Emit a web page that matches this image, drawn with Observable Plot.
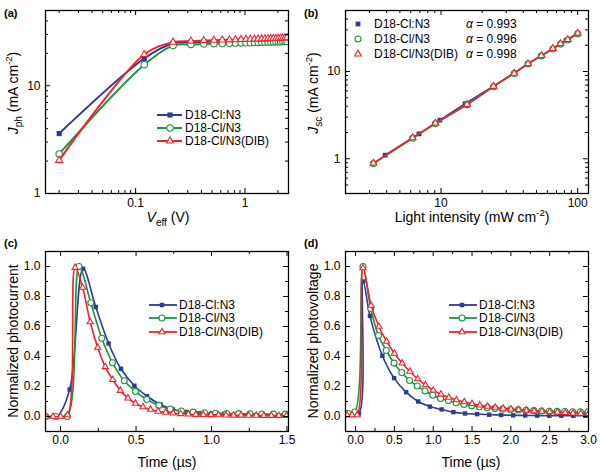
<!DOCTYPE html>
<html><head><meta charset="utf-8">
<script src="https://cdn.jsdelivr.net/npm/d3@7"></script>
<script src="https://cdn.jsdelivr.net/npm/@observablehq/plot@0.6"></script>
<style>
body{margin:0;background:#fff}
#root{position:relative;width:600px;height:472px;background:#fff;font-family:'Liberation Sans',Arial,sans-serif}
</style>
</head><body><div id="root"></div>
<script>
// ---------- names ----------
const seriesNames = ["D18-Cl:N3", "D18-Cl/N3", "D18-Cl/N3(DIB)"];
const alphaLabels = ["0.993", "0.996", "0.998"];

// ---------- panel (a): Jph vs Veff ----------
const veffA = [0.02, 0.12, 0.22, 0.32, 0.42, 0.52, 0.62, 0.72, 0.82, 0.92, 1.02, 1.12, 1.22, 1.32, 1.42, 1.52, 1.62, 1.72, 1.82, 1.92, 2.02, 2.12, 2.22, 2.32, 2.42];
const jphBlue = [3.6, 17.9, 24.8, 25.4, 25.6, 25.8, 25.9, 26.0, 26.05, 26.1, 26.2, 26.25, 26.3, 26.35, 26.4, 26.45, 26.5, 26.55, 26.6, 26.65, 26.7, 26.75, 26.8, 26.85, 26.9];
const jphGreen = [2.33, 15.7, 23.6, 24.2, 24.4, 24.6, 24.7, 24.8, 24.9, 25.0, 25.05, 25.1, 25.2, 25.25, 25.3, 25.4, 25.45, 25.5, 25.55, 25.6, 25.65, 25.7, 25.8, 25.85, 25.9];
const jphRed = [2.03, 19.5, 25.4, 26.0, 26.3, 26.5, 26.6, 26.7, 26.8, 26.9, 27.0, 27.05, 27.1, 27.2, 27.25, 27.3, 27.4, 27.45, 27.5, 27.55, 27.6, 27.7, 27.75, 27.8, 27.9];
const xMajorA = [0.1, 1];
const xMinorA = [0.02, 0.03, 0.04, 0.05, 0.06, 0.07, 0.08, 0.09, 0.2, 0.3, 0.4, 0.5, 0.6, 0.7, 0.8, 0.9, 2];
const yMajorA = [1, 10];
const yMinorA = [2, 3, 4, 5, 6, 7, 8, 9, 20, 30, 40];

// ---------- panel (b): Jsc vs light intensity ----------
const intensBlue = [3.9, 6.9, 9.8, 15.0, 24.2, 34.3, 43.3, 54.2, 65.8, 74.8, 82.0, 100];
const jscBlue = [1.10, 1.93, 2.77, 4.28, 6.8, 9.6, 12.3, 15.2, 18.3, 20.8, 22.7, 27.4];
const intensGreen = [3.2, 6.2, 9.1, 15.5, 24.2, 34.3, 43.3, 54.2, 65.8, 74.8, 84.5, 100];
const jscGreen = [0.88, 1.72, 2.53, 4.15, 6.7, 9.5, 12.2, 15.1, 18.1, 20.6, 23.0, 27.0];
const intensRed = [3.2, 6.2, 9.1, 15.5, 24.2, 34.3, 43.3, 54.2, 65.8, 74.8, 84.5, 100];
const jscRed = [0.89, 1.74, 2.56, 4.18, 6.75, 9.55, 12.3, 15.2, 18.3, 20.9, 23.2, 27.5];
const xMajorB = [10, 100];
const xMinorB = [2, 3, 4, 5, 6, 7, 8, 9, 20, 30, 40, 50, 60, 70, 80, 90];
const yMajorB = [1, 10];
const yMinorB = [0.4, 0.5, 0.6, 0.7, 0.8, 0.9, 2, 3, 4, 5, 6, 7, 8, 9, 20, 30, 40, 50];

// ---------- panel (c): normalized photocurrent ----------
const tBlueC = [-0.098, -0.024, 0.06, 0.149, 0.233, 0.318, 0.40, 0.489, 0.573, 0.662, 0.744, 0.833, 0.915, 1.0, 1.084, 1.168, 1.252, 1.336, 1.42, 1.498];
const iBlueC = [0, 0, 0.18, 0.985, 0.73, 0.487, 0.318, 0.205, 0.135, 0.08, 0.047, 0.03, 0.022, 0.02, 0.018, 0.015, 0.013, 0.012, 0.01, 0.01];
const tGreenC = [-0.098, -0.031, 0.044, 0.122, 0.2, 0.273, 0.344, 0.422, 0.496, 0.571, 0.651, 0.727, 0.80, 0.878, 0.953, 1.027, 1.10, 1.18, 1.255, 1.333, 1.41, 1.489];
const iGreenC = [0, 0, 0, 1.0, 0.758, 0.522, 0.358, 0.238, 0.167, 0.113, 0.074, 0.05, 0.037, 0.029, 0.025, 0.022, 0.02, 0.019, 0.018, 0.017, 0.016, 0.016];
const tRedC = [-0.098, -0.05, 0.0, 0.046, 0.096, 0.146, 0.196, 0.246, 0.296, 0.346, 0.396, 0.446, 0.496, 0.546, 0.596, 0.646, 0.696, 0.746, 0.796, 0.846, 0.896, 0.946, 0.996, 1.046, 1.096, 1.146, 1.196, 1.246, 1.296, 1.346, 1.396, 1.446, 1.496];
const iRedC = [0, 0, 0, 0.01, 0.993, 0.86, 0.63, 0.46, 0.331, 0.245, 0.173, 0.122, 0.087, 0.064, 0.047, 0.034, 0.027, 0.022, 0.018, 0.015, 0.013, 0.012, 0.011, 0.01, 0.009, 0.008, 0.008, 0.007, 0.007, 0.006, 0.006, 0.006, 0.005];
const xMajorC = [0, 0.5, 1.0, 1.5];
const xMinorC = [0.25, 0.75, 1.25];
const yMajorCD = [0, 0.2, 0.4, 0.6, 0.8, 1.0];
const yMinorCD = [0.1, 0.3, 0.5, 0.7, 0.9];

// ---------- panel (d): normalized photovoltage ----------
const tBlueD = [-0.11, -0.05, 0.043, 0.098, 0.185, 0.345, 0.496, 0.651, 0.806, 0.957, 1.108, 1.26, 1.41, 1.565, 1.72, 1.875, 2.03, 2.185, 2.34, 2.495, 2.65, 2.805, 2.96];
const vBlueD = [0.01, 0.01, 0.02, 0.9, 0.671, 0.405, 0.256, 0.162, 0.1, 0.066, 0.047, 0.029, 0.02, 0.016, 0.012, 0.01, 0.008, 0.007, 0.006, 0.005, 0.005, 0.005, 0.005];
const tGreenD = [-0.1, -0.01, 0.095, 0.195, 0.295, 0.395, 0.495, 0.595, 0.695, 0.795, 0.895, 0.995, 1.095, 1.195, 1.295, 1.395, 1.495, 1.595, 1.695, 1.795, 1.895, 1.995, 2.095, 2.195, 2.295, 2.395, 2.495, 2.595, 2.695, 2.795, 2.895, 2.995];
const vGreenD = [0.02, 0.03, 1.0, 0.72, 0.54, 0.44, 0.356, 0.293, 0.24, 0.203, 0.17, 0.142, 0.12, 0.106, 0.092, 0.08, 0.072, 0.065, 0.059, 0.054, 0.05, 0.047, 0.044, 0.041, 0.039, 0.037, 0.035, 0.034, 0.033, 0.032, 0.031, 0.03];
const tRedD = [-0.11, -0.045, 0.02, 0.095, 0.2, 0.3, 0.4, 0.5, 0.6, 0.7, 0.8, 0.9, 1.0, 1.1, 1.2, 1.3, 1.4, 1.5, 1.6, 1.7, 1.8, 1.9, 2.0, 2.1, 2.2, 2.3, 2.4, 2.5, 2.6, 2.7, 2.8, 2.9, 3.0];
const vRedD = [0.01, 0.01, 0.01, 0.99, 0.74, 0.6, 0.5, 0.42, 0.355, 0.3, 0.25, 0.21, 0.175, 0.148, 0.127, 0.11, 0.097, 0.085, 0.075, 0.067, 0.06, 0.054, 0.049, 0.045, 0.041, 0.037, 0.034, 0.031, 0.028, 0.025, 0.022, 0.02, 0.018];
const xMajorD = [0, 0.5, 1.0, 1.5, 2.0, 2.5, 3.0];
const xMinorD = [0.25, 0.75, 1.25, 1.75, 2.25, 2.75];

// ---------- styling ----------
const BLUE = "#2b3c96", GREEN = "#17983c", RED = "#f4212c";
const FONT = "'Liberation Sans', Arial, sans-serif";
const root = document.getElementById("root");

function tickMarks(xMaj, xMin, yMaj, yMin, iw, ih) {
  const t = [];
  for (const [vals, len] of [[xMaj, 5], [xMin, 3]]) {
    t.push(Plot.tickX(vals, {x: d => d, insetTop: ih - len, stroke: "#000", strokeWidth: 1}));
    t.push(Plot.tickX(vals, {x: d => d, insetBottom: ih - len, stroke: "#000", strokeWidth: 1}));
  }
  for (const [vals, len] of [[yMaj, 5], [yMin, 3]]) {
    t.push(Plot.tickY(vals, {y: d => d, insetRight: iw - len, stroke: "#000", strokeWidth: 1}));
    t.push(Plot.tickY(vals, {y: d => d, insetLeft: iw - len, stroke: "#000", strokeWidth: 1}));
  }
  return t;
}

function seriesMarks(series, curve, sw) {
  const m = [];
  for (const s of series) {
    const data = s.xs.map((x, i) => ({x, y: s.ys[i]}));
    m.push(Plot.line(data, {x: "x", y: "y", stroke: s.color, strokeWidth: sw, curve, clip: true}));
    m.push(Plot.dot(data, {x: "x", y: "y", symbol: s.sym, r: s.r, fill: s.open ? "white" : s.color,
      stroke: s.open ? s.color : "none", strokeWidth: 1.1, clip: true}));
  }
  return m;
}

const symType = {square: d3.symbolSquare, circle: d3.symbolCircle, triangle: d3.symbolTriangle};

function drawLegend(svg, series, o) {
  const g = d3.select(svg).append("g").attr("text-anchor", "start");
  series.forEach((s, i) => {
    const y = o.ys[i];
    if (o.line) g.append("line").attr("x1", o.x0).attr("x2", o.x1).attr("y1", y).attr("y2", y)
      .attr("stroke", s.color).attr("stroke-width", o.sw);
    g.append("path").attr("transform", `translate(${o.xm},${y})`)
      .attr("d", d3.symbol(symType[s.sym], Math.PI * s.r * s.r)())
      .attr("fill", s.open ? "white" : s.color).attr("stroke", s.open ? s.color : "none").attr("stroke-width", 1.1);
    g.append("text").attr("x", o.xt).attr("y", y).attr("dy", "0.36em").attr("text-anchor", "start")
      .attr("font-size", 12).attr("font-family", FONT).attr("fill", "#000").text(s.name);
    if (o.alpha) {
      const t = g.append("text").attr("x", o.xa).attr("y", y).attr("dy", "0.36em").attr("text-anchor", "start")
        .attr("font-size", 12).attr("font-family", FONT).attr("fill", "#000");
      t.append("tspan").attr("font-style", "italic").text("α");
      t.append("tspan").text(" = " + alphaLabels[i]);
    }
  });
}

function richText(svg, x, y, parts, rotate) {
  const t = d3.select(svg).append("text")
    .attr("text-anchor", "middle").attr("font-size", 14).attr("font-family", FONT).attr("fill", "#000")
    .attr("transform", rotate ? `translate(${x},${y}) rotate(-90)` : `translate(${x},${y})`);
  let shift = 0;
  for (const p of parts) {
    const sp = t.append("tspan").text(p.t);
    let target = 0;
    if (p.sub) { target = 4; sp.attr("font-size", 10); }
    if (p.sup) { target = -6; sp.attr("font-size", 9.5); }
    if (p.i) sp.attr("font-style", "italic");
    if (target - shift !== 0) sp.attr("dy", target - shift);
    shift = target;
  }
}

function panelLabel(svg, txt, x, y) {
  d3.select(svg).append("text").attr("x", x).attr("y", y).attr("text-anchor", "start")
    .attr("font-size", 11).attr("font-weight", "bold")
    .attr("font-family", FONT).attr("fill", "#000").text(txt);
}

function place(svg, left, top) {
  svg.style.position = "absolute";
  svg.style.left = left + "px";
  svg.style.top = top + "px";
  root.appendChild(svg);
}

const baseStyle = {fontFamily: FONT, fontSize: "12px", color: "#000", background: "transparent", overflow: "visible"};

// ----- panel (a)
{
  const series = [
    {name: seriesNames[0], color: BLUE, sym: "square", r: 2.9, open: false, xs: veffA, ys: jphBlue},
    {name: seriesNames[1], color: GREEN, sym: "circle", r: 3.2, open: true, xs: veffA, ys: jphGreen},
    {name: seriesNames[2], color: RED, sym: "triangle", r: 2.6, open: true, xs: veffA, ys: jphRed}
  ];
  const svg = Plot.plot({
    width: 300, height: 236, marginLeft: 45, marginRight: 12, marginTop: 10, marginBottom: 43,
    style: baseStyle,
    x: {type: "log", domain: [0.015, 2.5]},
    y: {type: "log", domain: [1, 50]},
    marks: [
      ...seriesMarks(series, "catmull-rom", 2),
      Plot.frame({stroke: "#000", strokeWidth: 1.3}),
      ...tickMarks(xMajorA, xMinorA, yMajorA, yMinorA, 243, 183),
      Plot.axisX(xMajorA, {tickSize: 0, tickPadding: 5, tickFormat: d => String(d), label: null}),
      Plot.axisY(yMajorA, {tickSize: 0, tickPadding: 5, tickFormat: d => String(d), label: null})
    ]
  });
  drawLegend(svg, series, {line: true, x0: 157, x1: 182, xm: 170, xt: 185, ys: [115, 128, 141], sw: 2});
  richText(svg, 18, 93, [{t: "J", i: true}, {t: "ph", sub: true}, {t: " (mA cm"}, {t: "-2", sup: true}, {t: ")"}], true);
  richText(svg, 168, 222, [{t: "V", i: true}, {t: "eff", sub: true}, {t: " (V)"}], false);
  panelLabel(svg, "(a)", 4, 17);
  place(svg, 0, 0);
}

// ----- panel (b)
{
  const series = [
    {name: seriesNames[0], color: BLUE, sym: "square", r: 2.7, open: false, xs: intensBlue, ys: jscBlue},
    {name: seriesNames[1], color: GREEN, sym: "circle", r: 3.0, open: true, xs: intensGreen, ys: jscGreen},
    {name: seriesNames[2], color: RED, sym: "triangle", r: 2.5, open: true, xs: intensRed, ys: jscRed}
  ];
  const svg = Plot.plot({
    width: 300, height: 236, marginLeft: 45, marginRight: 12, marginTop: 10, marginBottom: 43,
    style: baseStyle,
    x: {type: "log", domain: [2, 120]},
    y: {type: "log", domain: [0.4, 50]},
    marks: [
      ...seriesMarks(series, "linear", 1.6),
      Plot.frame({stroke: "#000", strokeWidth: 1.3}),
      ...tickMarks(xMajorB, xMinorB, yMajorB, yMinorB, 243, 183),
      Plot.axisX(xMajorB, {tickSize: 0, tickPadding: 5, tickFormat: d => String(d), label: null}),
      Plot.axisY(yMajorB, {tickSize: 0, tickPadding: 5, tickFormat: d => String(d), label: null})
    ]
  });
  drawLegend(svg, series, {line: false, xm: 58, xt: 74, xa: 166, alpha: true, ys: [24, 39, 54]});
  richText(svg, 18, 93, [{t: "J", i: true}, {t: "sc", sub: true}, {t: " (mA cm"}, {t: "-2", sup: true}, {t: ")"}], true);
  richText(svg, 172, 222, [{t: "Light intensity (mW cm"}, {t: "-2", sup: true}, {t: ")"}], false);
  panelLabel(svg, "(b)", 4, 17);
  place(svg, 300, 0);
}

// ----- panel (c)
{
  const series = [
    {name: seriesNames[0], color: BLUE, sym: "square", r: 2.5, open: false, xs: tBlueC, ys: iBlueC},
    {name: seriesNames[1], color: GREEN, sym: "circle", r: 3.0, open: true, xs: tGreenC, ys: iGreenC},
    {name: seriesNames[2], color: RED, sym: "triangle", r: 2.3, open: true, xs: tRedC, ys: iRedC}
  ];
  const svg = Plot.plot({
    width: 300, height: 236, marginLeft: 45, marginRight: 12, marginTop: 15, marginBottom: 41,
    style: baseStyle,
    x: {type: "linear", domain: [-0.1, 1.51]},
    y: {type: "linear", domain: [-0.1, 1.1]},
    marks: [
      ...seriesMarks(series, "catmull-rom", 1.6),
      Plot.frame({stroke: "#000", strokeWidth: 1.3}),
      ...tickMarks(xMajorC, xMinorC, yMajorCD, yMinorCD, 243, 180),
      Plot.axisX(xMajorC, {tickSize: 0, tickPadding: 4, tickFormat: d => d.toFixed(1), label: null}),
      Plot.axisY(yMajorCD, {tickSize: 0, tickPadding: 5, tickFormat: d => d.toFixed(1), label: null})
    ]
  });
  drawLegend(svg, series, {line: true, x0: 149, x1: 177, xm: 162, xt: 179, ys: [69, 82, 96], sw: 1.8});
  richText(svg, 18, 105, [{t: "Normalized photocurrent"}], true);
  richText(svg, 167, 231, [{t: "Time (µs)"}], false);
  panelLabel(svg, "(c)", 4, 11);
  place(svg, 0, 236);
}

// ----- panel (d)
{
  const series = [
    {name: seriesNames[0], color: BLUE, sym: "square", r: 2.5, open: false, xs: tBlueD, ys: vBlueD},
    {name: seriesNames[1], color: GREEN, sym: "circle", r: 3.0, open: true, xs: tGreenD, ys: vGreenD},
    {name: seriesNames[2], color: RED, sym: "triangle", r: 2.3, open: true, xs: tRedD, ys: vRedD}
  ];
  const svg = Plot.plot({
    width: 300, height: 236, marginLeft: 45, marginRight: 12, marginTop: 15, marginBottom: 41,
    style: baseStyle,
    x: {type: "linear", domain: [-0.13, 3.0]},
    y: {type: "linear", domain: [-0.1, 1.1]},
    marks: [
      ...seriesMarks(series, "catmull-rom", 1.6),
      Plot.frame({stroke: "#000", strokeWidth: 1.3}),
      ...tickMarks(xMajorD, xMinorD, yMajorCD, yMinorCD, 243, 180),
      Plot.axisX(xMajorD, {tickSize: 0, tickPadding: 4, tickFormat: d => d.toFixed(1), label: null}),
      Plot.axisY(yMajorCD, {tickSize: 0, tickPadding: 5, tickFormat: d => d.toFixed(1), label: null})
    ]
  });
  drawLegend(svg, series, {line: true, x0: 149, x1: 177, xm: 162, xt: 179, ys: [69, 82, 96], sw: 1.8});
  richText(svg, 18, 105, [{t: "Normalized photovoltage"}], true);
  richText(svg, 171, 231, [{t: "Time (µs)"}], false);
  panelLabel(svg, "(d)", 4, 11);
  place(svg, 300, 236);
}
</script></body></html>
